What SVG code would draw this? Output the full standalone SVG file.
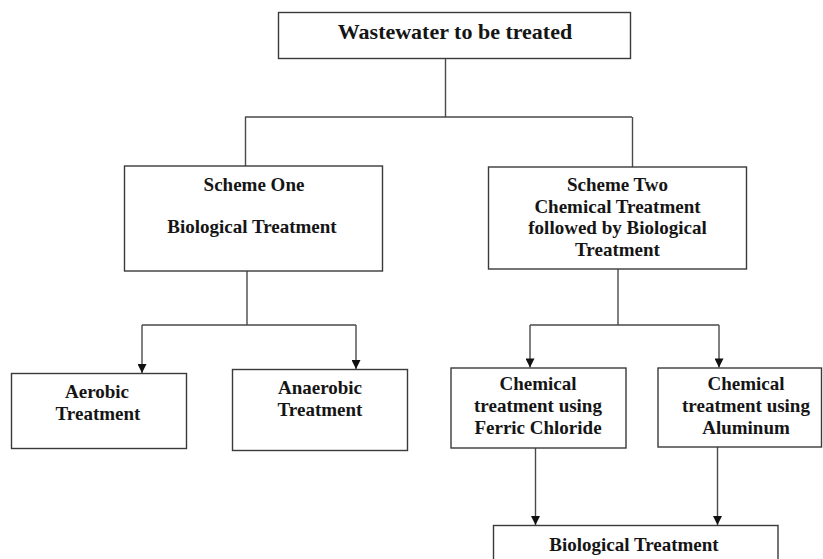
<svg xmlns="http://www.w3.org/2000/svg" width="823" height="559" viewBox="0 0 823 559">
<style>
.box{fill:#fff;stroke:#3a3a3a;stroke-width:1.4}
.t{font-family:"Liberation Serif","Times New Roman",serif;font-weight:bold;font-size:19px;fill:#151515;text-anchor:middle}
.title{font-size:22px}
.c{fill:none;stroke:#4a4a4a;stroke-width:1.4}
</style>
<defs>
<marker id="ah" viewBox="0 0 10 10" refX="10" refY="5" markerWidth="10" markerHeight="9" markerUnits="userSpaceOnUse" orient="auto">
<path d="M0,0 L10,5 L0,10 z" fill="#111"/>
</marker>
</defs>
<rect width="823" height="559" fill="#fff"/>
<g id="connectors">
<path class="c" d="M445.5,59 V117 M245,117 H632 M245.5,117 V166 M632.5,117 V167"/>
<path class="c" d="M247,271 V325 M142,325 H356"/>
<path class="c" d="M142,325 V373" marker-end="url(#ah)"/>
<path class="c" d="M356,325 V369" marker-end="url(#ah)"/>
<path class="c" d="M618,269 V325 M530,325 H719"/>
<path class="c" d="M530,325 V367.5" marker-end="url(#ah)"/>
<path class="c" d="M719,325 V367.5" marker-end="url(#ah)"/>
<path class="c" d="M535.5,448 V525" marker-end="url(#ah)"/>
<path class="c" d="M717.5,447 V525" marker-end="url(#ah)"/>
</g>
<g id="wastewater">
<rect class="box" x="278.5" y="12.5" width="352" height="46"/>
<text class="t title" x="455" y="38.5">Wastewater to be treated</text>
</g>
<g id="scheme-one">
<rect class="box" x="124.5" y="166" width="258" height="105"/>
<text class="t" x="254" y="190.5">Scheme One</text>
<text class="t" x="252" y="232.5">Biological Treatment</text>
</g>
<g id="scheme-two">
<rect class="box" x="488.5" y="167" width="258" height="102"/>
<text class="t" x="617.5" y="191">Scheme Two</text>
<text class="t" x="617.5" y="212.5">Chemical Treatment</text>
<text class="t" x="617.5" y="234">followed by Biological</text>
<text class="t" x="617.5" y="255.5">Treatment</text>
</g>
<g id="aerobic">
<rect class="box" x="11.5" y="373.5" width="175" height="75"/>
<text class="t" x="97" y="397.5">Aerobic</text>
<text class="t" x="98" y="419.5">Treatment</text>
</g>
<g id="anaerobic">
<rect class="box" x="232.5" y="369.5" width="175" height="81"/>
<text class="t" x="320" y="393.5">Anaerobic</text>
<text class="t" x="320" y="415.5">Treatment</text>
</g>
<g id="ferric">
<rect class="box" x="451" y="368" width="175" height="80"/>
<text class="t" x="538" y="390">Chemical</text>
<text class="t" x="538" y="412">treatment using</text>
<text class="t" x="538" y="434">Ferric Chloride</text>
</g>
<g id="aluminum">
<rect class="box" x="658" y="368" width="163.5" height="79"/>
<text class="t" x="746" y="390">Chemical</text>
<text class="t" x="746" y="412">treatment using</text>
<text class="t" x="746" y="434">Aluminum</text>
</g>
<g id="biological">
<rect class="box" x="493.5" y="525.5" width="284.5" height="50"/>
<text class="t" x="634" y="550.5">Biological Treatment</text>
</g>
</svg>
